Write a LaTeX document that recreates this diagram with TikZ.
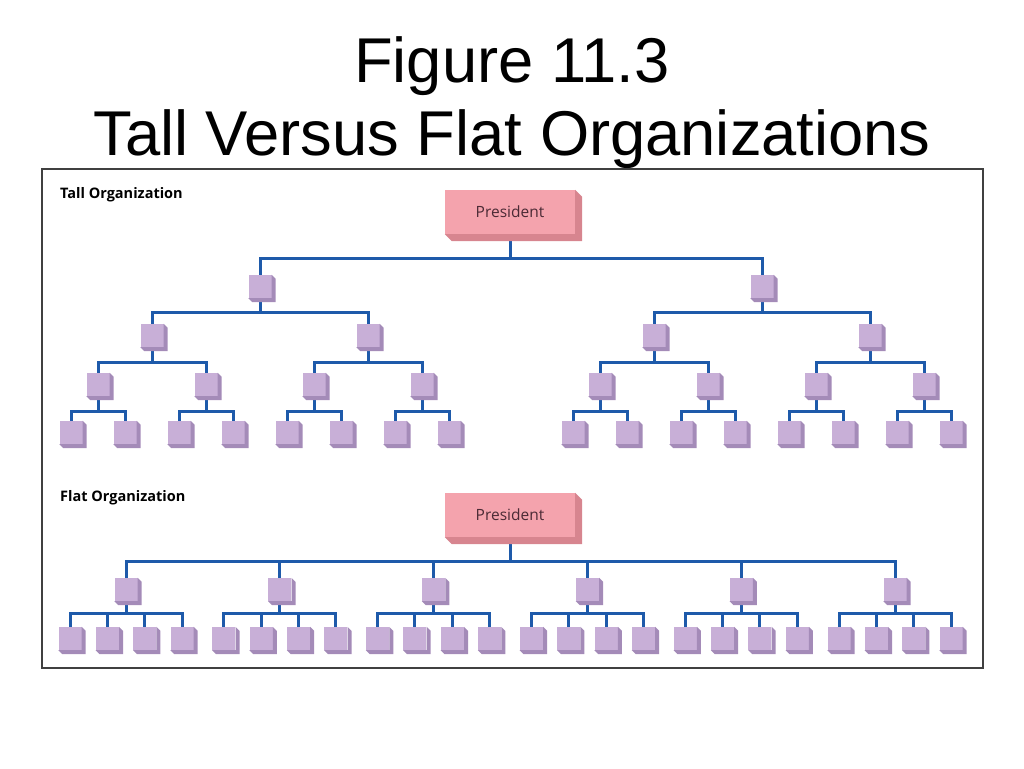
\documentclass[tikz,border=0pt]{standalone}
\usepackage{fontspec}
\usetikzlibrary{calc,backgrounds}

\newfontfamily\titlefont{Liberation Sans}
\newfontfamily\chartfont{Open Sans}

\definecolor{unitface}{HTML}{C8AFD7}
\definecolor{unitside}{HTML}{A48BB8}
\definecolor{chiefface}{HTML}{F4A3AD}
\definecolor{chiefside}{HTML}{D7858F}
\definecolor{linkblue}{HTML}{1E5AAA}
\definecolor{chieftext}{HTML}{4B2A35}

\begin{document}
\begin{tikzpicture}[x=1pt,y=-1pt]
    % -----------------------------
    % Styles and helpers
    % -----------------------------
    \tikzset{
      unitbox/.style={fill=unitface, minimum size=23pt, inner sep=0pt},
      chiefbox/.style={fill=chiefface, minimum width=130pt, minimum height=44pt, inner sep=0pt,
        text=chieftext, font=\chartfont\fontsize{15.5}{15.5}\selectfont},
      link/.style={draw=linkblue, line width=3pt},
      sectlabel/.style={anchor=west, inner sep=0pt, font=\chartfont\bfseries\fontsize{14.5}{14.5}\selectfont},
      heading/.style={anchor=base, inner sep=0pt, font=\titlefont\fontsize{63.3}{63.3}\selectfont}
    }

    % side faces of a block (node, colour, depth)
    \newcommand{\extrude}[3]{%
      \fill[#2] (#1.north east) -- ++(#3,#3) -- ($(#1.south east)+(#3,#3)$)
        -- ($(#1.south west)+(#3,#3)$) -- (#1.south west) -- (#1.south east) -- cycle;
    }
    % one small box at (x,y)
    \newcommand{\unit}[3]{%
      \node[unitbox] (#1) at (#2,#3) {};
      \extrude{#1}{unitside}{4}
    }
    % connector parent -> child, horizontal bar at y
    \newcommand{\branch}[3]{%
      \begin{pgfonlayer}{background}
        \draw[link] (#1.south) |- (#2.north |- 0,#3) -- (#2.north);
      \end{pgfonlayer}
    }

    \useasboundingbox (0,0) rectangle (1024,768);

    % Title
    \node[heading] (title1) at (512,82) {Figure 11.3};
    \node[heading] (title2) at (512,155) {Tall Versus Flat Organizations};

    % Frame
    \draw[draw=black!75, line width=1.6pt] (42,169) rectangle (983,668);

    % -----------------------------
    % Tall organization
    % -----------------------------
    \node[sectlabel] (talllabel) at (60,195) {Tall Organization};
    \node[chiefbox] (tp) at (510,212) {President};
    \extrude{tp}{chiefside}{7}

    \foreach \a/\ax in {1/260, 2/762} {
      \unit{t\a}{\ax}{286.5}
      \branch{tp}{t\a}{258}
      \foreach \b/\bs in {1/-108, 2/108} {
        \pgfmathsetmacro{\bx}{\ax+\bs}
        \unit{t\a\b}{\bx}{335.5}
        \branch{t\a}{t\a\b}{312}
        \foreach \c/\cs in {1/-54, 2/54} {
          \pgfmathsetmacro{\cx}{\bx+\cs}
          \unit{t\a\b\c}{\cx}{384.5}
          \branch{t\a\b}{t\a\b\c}{362}
          \foreach \d/\ds in {1/-27, 2/27} {
            \pgfmathsetmacro{\dx}{\cx+\ds}
            \unit{t\a\b\c\d}{\dx}{432.5}
            \branch{t\a\b\c}{t\a\b\c\d}{411}
          }
        }
      }
    }

    % -----------------------------
    % Flat organization
    % -----------------------------
    \node[sectlabel] (flatlabel) at (60,498) {Flat Organization};
    \node[chiefbox] (fp) at (510,515) {President};
    \extrude{fp}{chiefside}{7}

    \foreach \a in {0,...,5} {
      \pgfmathsetmacro{\ax}{126+153.8*\a}
      \unit{f\a}{\ax}{589.5}
      \branch{fp}{f\a}{561}
      \foreach \d/\ds in {1/-56, 2/-18.7, 3/18.7, 4/56} {
        \pgfmathsetmacro{\dx}{\ax+\ds}
        \unit{f\a\d}{\dx}{638.5}
        \branch{f\a}{f\a\d}{613}
      }
    }

\end{tikzpicture}
\end{document}
